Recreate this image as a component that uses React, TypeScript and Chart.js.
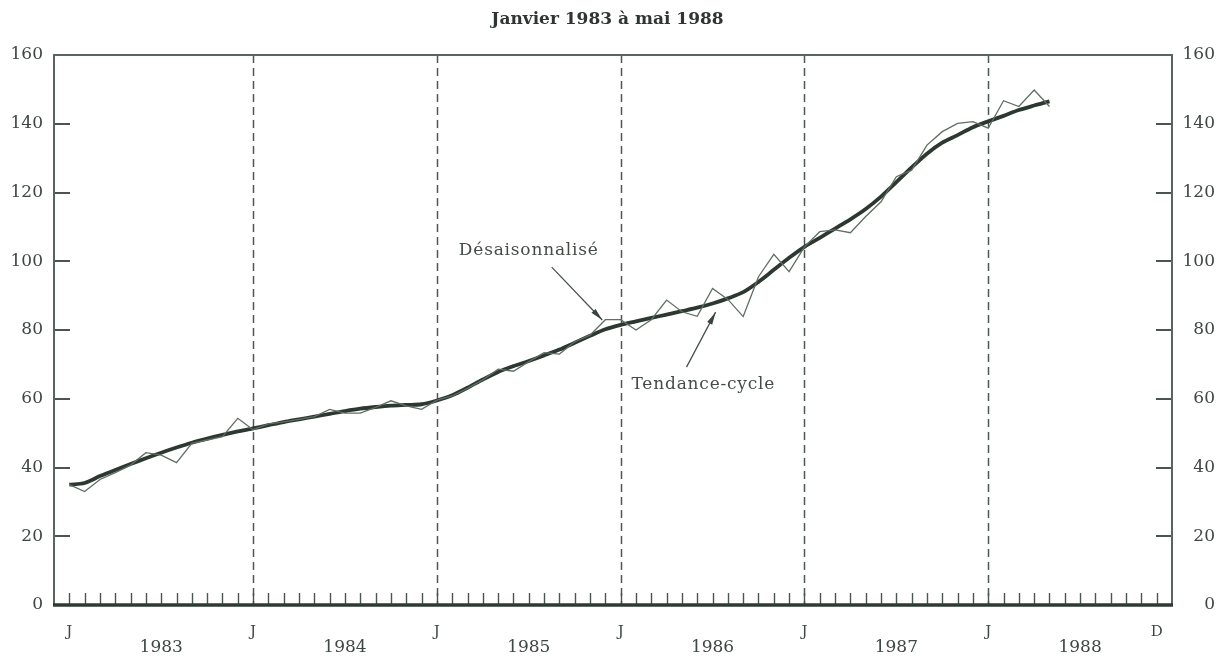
import React, { useEffect, useRef } from "react";
import { Chart, registerables } from "chart.js";

Chart.register(...registerables);

const TITLE = "Janvier 1983 à mai 1988";

// Monthly values, January 1983 (index 0) to May 1988 (index 64)
const DESAISONNALISE = [
  35, 33, 36.5, 38.5, 40.7, 44.3, 43.6, 41.4, 47, 48,
  49, 54.3, 51, 52.7, 53.3, 54, 54.8, 56.9, 55.8, 55.8,
  57.5, 59.4, 57.9, 56.9, 59.6, 60.8, 63, 65.5, 68.6, 68,
  70.8, 73.4, 73, 76.6, 78.5, 83, 83, 80, 83, 88.7,
  85.3, 84, 92.1, 88.9, 83.9, 95.5, 102, 97, 104.2, 108.6,
  109.1, 108.3, 113, 117.3, 124.6, 126.5, 133.8, 137.7, 140.1, 140.6,
  138.7, 146.7, 145, 149.8, 145,
];

const TENDANCE_CYCLE = [
  35, 35.5, 37.5, 39.3, 41, 42.7, 44.3, 45.8, 47.2, 48.4,
  49.5, 50.5, 51.4, 52.3, 53.2, 54, 54.8, 55.6, 56.4, 57.1,
  57.6, 58, 58.2, 58.4, 59.5, 61, 63.2, 65.6, 67.8, 69.5,
  71, 72.6, 74.3, 76.3, 78.3, 80.2, 81.5, 82.5, 83.5, 84.5,
  85.5, 86.5, 87.7, 89.2, 91, 94, 97.5, 101, 104.2, 106.8,
  109.5, 112.2, 115.2, 118.8, 123, 127.3, 131.3, 134.5, 136.7, 139,
  140.7, 142.3, 144, 145.3, 146.5,
];

// x-axis labels (month index -> label)
const X_TICK_VALUES = [0, 6, 12, 18, 24, 30, 36, 42, 48, 54, 60, 66, 71];
const X_TICK_LABELS: (string | string[])[] = [
  "J", ["", "1983"], "J", ["", "1984"], "J", ["", "1985"], "J", ["", "1986"],
  "J", ["", "1987"], "J", ["", "1988"], "D",
];
const JANUARY_LINES = [12, 24, 36, 48, 60];
const MONTH_COUNT = 72;

const Y_MIN = 0;
const Y_MAX = 160;
const Y_STEP = 20;

// Annotations: text position, arrow tail, arrow tip, in data units
const ANNOTATIONS = [
  { text: "Désaisonnalisé", tx: 30.0, ty: 103, ax: 31.5, ay: 98.3, bx: 34.8, by: 82.9 },
  { text: "Tendance-cycle", tx: 41.4, ty: 64, ax: 40.3, ay: 69.2, bx: 42.2, by: 85.2 },
];

const FONT = "'DejaVu Serif', 'Liberation Serif', serif";

const decorPlugin = {
  id: "decor",
  beforeDatasetsDraw(chart: any) {
    const { ctx, chartArea: a, scales } = chart;
    const xs = scales.x;
    const ys = scales.y;
    ctx.save();
    // dashed January lines
    ctx.strokeStyle = "#4d5852";
    ctx.lineWidth = 1.5;
    ctx.setLineDash([8, 5]);
    JANUARY_LINES.forEach((m) => {
      const x = Math.round(xs.getPixelForValue(m)) + 0.5;
      ctx.beginPath();
      ctx.moveTo(x, a.top);
      ctx.lineTo(x, a.bottom);
      ctx.stroke();
    });
    ctx.setLineDash([]);
    // monthly ticks
    ctx.strokeStyle = "#4a554e";
    ctx.lineWidth = 1.4;
    for (let m = 0; m < MONTH_COUNT; m++) {
      const x = Math.round(xs.getPixelForValue(m)) + 0.5;
      ctx.beginPath();
      ctx.moveTo(x, a.bottom);
      ctx.lineTo(x, a.bottom - 12);
      ctx.stroke();
    }
    // inner y ticks, both sides
    ctx.lineWidth = 2;
    ys.ticks.forEach((t: any) => {
      if (t.value <= Y_MIN || t.value >= Y_MAX) return;
      const y = Math.round(ys.getPixelForValue(t.value));
      ctx.beginPath();
      ctx.moveTo(a.left, y);
      ctx.lineTo(a.left + 16, y);
      ctx.moveTo(a.right, y);
      ctx.lineTo(a.right - 16, y);
      ctx.stroke();
    });
    // frame
    ctx.strokeStyle = "#59655e";
    ctx.lineWidth = 2;
    ctx.beginPath();
    ctx.moveTo(a.left, a.bottom);
    ctx.lineTo(a.left, a.top);
    ctx.lineTo(a.right, a.top);
    ctx.lineTo(a.right, a.bottom);
    ctx.stroke();
    ctx.strokeStyle = "#2f3a33";
    ctx.lineWidth = 3.5;
    ctx.beginPath();
    ctx.moveTo(a.left - 1, a.bottom);
    ctx.lineTo(a.right + 1, a.bottom);
    ctx.stroke();
    ctx.restore();
  },
  afterDatasetsDraw(chart: any) {
    const { ctx, scales } = chart;
    const xs = scales.x;
    const ys = scales.y;
    ctx.save();
    ctx.font = `17px ${FONT}`;
    try {
      (ctx as any).letterSpacing = "0.8px";
    } catch (e) {}
    ctx.textAlign = "center";
    ctx.textBaseline = "middle";
    ANNOTATIONS.forEach((an) => {
      ctx.fillStyle = "#444c47";
      ctx.fillText(an.text, xs.getPixelForValue(an.tx), ys.getPixelForValue(an.ty));
      const x1 = xs.getPixelForValue(an.ax);
      const y1 = ys.getPixelForValue(an.ay);
      const x2 = xs.getPixelForValue(an.bx);
      const y2 = ys.getPixelForValue(an.by);
      ctx.strokeStyle = "#4a524d";
      ctx.lineWidth = 1.3;
      ctx.beginPath();
      ctx.moveTo(x1, y1);
      ctx.lineTo(x2, y2);
      ctx.stroke();
      const ang = Math.atan2(y2 - y1, x2 - x1);
      const L = 13;
      const W = 0.22;
      ctx.fillStyle = "#3b433e";
      ctx.beginPath();
      ctx.moveTo(x2, y2);
      ctx.lineTo(x2 - L * Math.cos(ang - W), y2 - L * Math.sin(ang - W));
      ctx.lineTo(x2 - L * Math.cos(ang + W), y2 - L * Math.sin(ang + W));
      ctx.closePath();
      ctx.fill();
    });
    ctx.restore();
  },
};

export default function App() {
  const ref = useRef<HTMLCanvasElement | null>(null);

  useEffect(() => {
    if (!ref.current) return;
    const chart = new Chart(ref.current, {
      type: "line",
      data: {
        datasets: [
          {
            label: "Désaisonnalisé",
            data: DESAISONNALISE.map((v, i) => ({ x: i, y: v })),
            borderColor: "#5f6e64",
            borderWidth: 1.3,
            pointRadius: 0,
            tension: 0,
            fill: false,
          },
          {
            label: "Tendance-cycle",
            data: TENDANCE_CYCLE.map((v, i) => ({ x: i, y: v })),
            borderColor: "#2c3830",
            borderWidth: 3.8,
            pointRadius: 0,
            tension: 0.3,
            fill: false,
          },
        ],
      },
      options: {
        animation: false,
        responsive: true,
        maintainAspectRatio: false,
        layout: { padding: { left: 0, right: 8, top: 0, bottom: 0 } },
        plugins: {
          legend: { display: false },
          tooltip: { enabled: false },
          title: {
            display: true,
            text: TITLE,
            color: "#2f3531",
            font: { family: FONT, size: 17, weight: "bold", lineHeight: 1.2 },
            padding: { top: 9, bottom: 25.6 },
          },
        },
        scales: {
          x: {
            type: "linear",
            min: -1,
            max: MONTH_COUNT,
            grid: { display: false, drawTicks: false },
            border: { display: false },
            afterBuildTicks: (s: any) => {
              s.ticks = X_TICK_VALUES.map((v) => ({ value: v }));
            },
            afterFit: (s: any) => {
              s.height = 54;
            },
            ticks: {
              autoSkip: false,
              maxRotation: 0,
              padding: 19,
              color: "#3f4742",
              font: (c: any) =>
                Array.isArray(X_TICK_LABELS[c.index])
                  ? { family: FONT, size: 17, lineHeight: 0.94 }
                  : { family: FONT, size: 15, lineHeight: 1.07 },
              callback: (_v: any, i: number) => X_TICK_LABELS[i],
            },
          },
          y: {
            position: "left",
            min: Y_MIN,
            max: Y_MAX,
            grid: { display: false, drawTicks: false },
            border: { display: false },
            afterFit: (s: any) => {
              s.width = 54;
            },
            ticks: {
              stepSize: Y_STEP,
              padding: 11,
              color: "#3f4742",
              font: { family: FONT, size: 17 },
            },
          },
          y2: {
            position: "right",
            min: Y_MIN,
            max: Y_MAX,
            grid: { display: false, drawTicks: false },
            border: { display: false },
            afterFit: (s: any) => {
              s.width = 43;
            },
            ticks: {
              stepSize: Y_STEP,
              padding: 11,
              crossAlign: "far",
              color: "#3f4742",
              font: { family: FONT, size: 17 },
            },
          },
        },
      },
      plugins: [decorPlugin],
    } as any);
    return () => chart.destroy();
  }, []);

  return (
    <div
      style={{
        position: "fixed",
        left: 0,
        top: 0,
        width: 1223,
        height: 659,
        background: "#ffffff",
      }}
    >
      <canvas ref={ref} />
    </div>
  );
}
